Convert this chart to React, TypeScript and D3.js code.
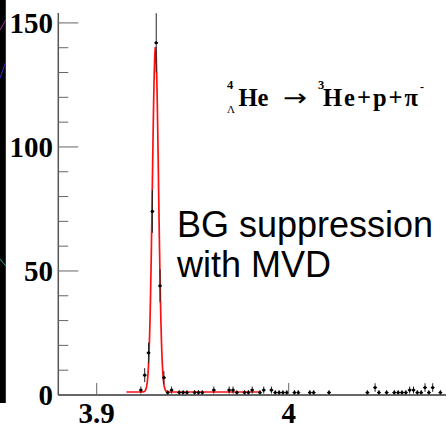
import React from 'react';
import * as d3 from 'd3';

// Histogram: invariant mass (GeV/c^2) bin centers and counts (non-empty bins)
const binCenters = [3.923, 3.925, 3.927, 3.929, 3.931, 3.933, 3.935, 3.937, 3.939, 3.943, 3.945, 3.947, 3.951, 3.953, 3.955, 3.961, 3.969, 3.971, 3.973, 3.977, 3.979, 3.981, 3.985, 3.987, 3.991, 3.993, 3.995, 3.997, 3.999, 4.003, 4.005, 4.011, 4.013, 4.021, 4.041, 4.045, 4.047, 4.051, 4.055, 4.057, 4.059, 4.061, 4.063, 4.065, 4.067, 4.069, 4.071, 4.073, 4.075, 4.079];
const counts = [2, 8, 17, 74, 142, 44, 7, 1, 2, 1, 1, 1, 1, 1, 1, 2, 2, 2, 1, 1, 1, 2, 1, 2, 2, 1, 1, 1, 1, 1, 1, 1, 1, 1, 1, 3, 1, 1, 1, 1, 1, 1, 2, 2, 1, 1, 3, 1, 3, 1];
const binWidth = 0.002;

// Gaussian + constant fit parameters
const fitMean = 3.9306;
const fitSigma = 0.0016;
const fitAmp = 139;
const fitBg = 1.2;
const fitRange = [3.9155, 3.9845];

const yMajorTicks = [0, 50, 100, 150];
const yMinorTicks = [10, 20, 30, 40, 60, 70, 80, 90, 110, 120, 130, 140];
const xTicks = [3.9, 4.0];
const xTickLabels = ['3.9', '4'];

export default function App() {
  const W = 446, H = 424;
  const x = d3.scaleLinear().domain([3.9, 4.0]).range([96.7, 288.7]);
  const y = d3.scaleLinear().domain([0, 154]).range([395, 13]);
  const x0 = 58.3;
  const yAxisTop = y(154);
  const y0 = y(0);

  const fitPts: [number, number][] = d3.range(fitRange[0], fitRange[1] + 1e-9, 0.0002).map((m) => [
    m,
    fitBg + fitAmp * Math.exp(-0.5 * ((m - fitMean) / fitSigma) ** 2),
  ]);
  const line = d3.line<[number, number]>().x((d) => x(d[0])).y((d) => y(d[1])).curve(d3.curveLinear);

  const serif = '"Liberation Serif", "Times New Roman", serif';
  const sans = '"Liberation Sans", Arial, sans-serif';

  return (
    <svg width={W} height={H} style={{ position: 'absolute', left: 0, top: 0, background: '#fff' }}>
      {/* dark slide strip on the left */}
      <rect x={0} y={0} width={5.8} height={403} fill="#000" />
      <line x1={0} y1={30} x2={5.8} y2={20} stroke="#b02aa8" strokeWidth={1} />
      <line x1={0} y1={78} x2={5.8} y2={62} stroke="#3a2ad0" strokeWidth={1} />
      <line x1={0} y1={259} x2={5.8} y2={266} stroke="#1fa6a6" strokeWidth={1} />

      {/* fit curve */}
      <path d={line(fitPts) || ''} fill="none" stroke="#ff1010" strokeWidth={1.7} />

      {/* data points */}
      {binCenters.map((c, i) => {
        const n = counts[i];
        const e = Math.sqrt(n);
        const cx = x(c);
        return (
          <g key={i}>
            <line x1={cx} x2={cx} y1={y(n + e)} y2={y(Math.max(0, n - e))} stroke="#222" strokeWidth={1} />
            <line x1={x(c - binWidth / 2)} x2={x(c + binWidth / 2)} y1={y(n)} y2={y(n)} stroke="#222" strokeWidth={1} />
            <circle cx={cx} cy={y(n)} r={1.6} fill="#000" />
          </g>
        );
      })}

      {/* axes */}
      <line x1={x0} x2={x0} y1={yAxisTop} y2={y0} stroke="#555" strokeWidth={1.5} />
      <line x1={x0} x2={W} y1={y0} y2={y0} stroke="#333" strokeWidth={1.7} />
      {yMajorTicks.map((t) => (
        <g key={'ym' + t}>
          <line x1={x0} x2={x0 + 20} y1={y(t)} y2={y(t)} stroke="#666" strokeWidth={1} />
          <text x={53} y={y(t) + 10} textAnchor="end" fontFamily={serif} fontWeight="bold" fontSize={29} fill="#000">
            {t}
          </text>
        </g>
      ))}
      {yMinorTicks.map((t) => (
        <line key={'yn' + t} x1={x0} x2={x0 + 10} y1={y(t)} y2={y(t)} stroke="#666" strokeWidth={1} />
      ))}
      {xTicks.map((t, i) => (
        <g key={'x' + t}>
          <line x1={x(t)} x2={x(t)} y1={y0} y2={y0 - 12} stroke="#666" strokeWidth={1} />
          <text x={x(t)} y={423} textAnchor="middle" fontFamily={serif} fontWeight="bold" fontSize={29} fill="#000">
            {xTickLabels[i]}
          </text>
        </g>
      ))}

      {/* reaction formula */}
      <text x={227} y={89} fontFamily={serif} fontWeight="bold" fontSize={12.5} fill="#000">4</text>
      <text x={227} y={112.5} fontFamily={serif} fontSize={11} fill="#000">Λ</text>
      <text x={238.5} y={105.5} fontFamily={serif} fontWeight="bold" fontSize={24.5} fill="#000">He</text>
      <text x={283} y={106} fontFamily='"DejaVu Sans", sans-serif' fontSize={24} fill="#000" textLength={24} lengthAdjust="spacingAndGlyphs">→</text>
      <text x={318} y={89} fontFamily={serif} fontWeight="bold" fontSize={12.5} fill="#000">3</text>
      <text x={323} y={105.5} fontFamily={serif} fontWeight="bold" fontSize={24.5} fill="#000" textLength={95} lengthAdjust="spacing">He+p+π</text>
      <text x={420} y={91} fontFamily={serif} fontWeight="bold" fontSize={12} fill="#000">-</text>

      {/* annotation */}
      <text x={177} y={237} fontFamily={sans} fontSize={36} fill="#000">BG suppression</text>
      <text x={177} y={277} fontFamily={sans} fontSize={36} fill="#000">with MVD</text>
    </svg>
  );
}
